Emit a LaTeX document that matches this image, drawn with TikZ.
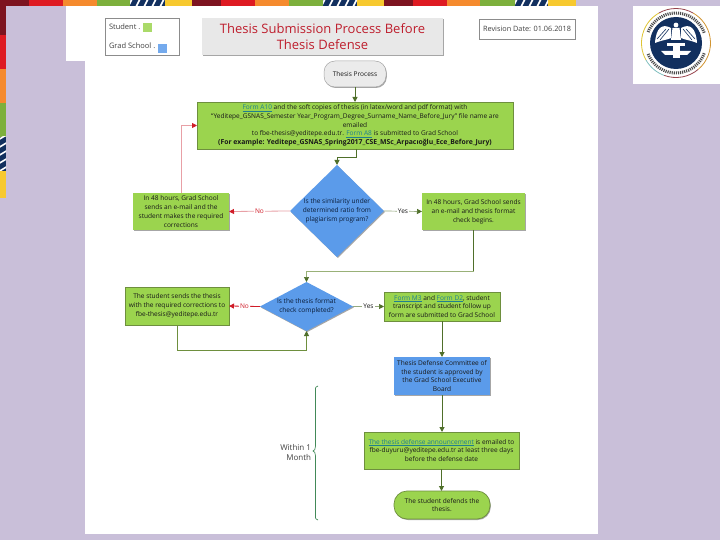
\documentclass[tikz,border=0pt]{standalone}
\usepackage{fontspec}
\setmainfont{Open Sans}
\usetikzlibrary{shapes.geometric,shadows,arrows.meta,calc}
\definecolor{lav}{HTML}{C9BFD9}
\definecolor{dkred}{HTML}{7D1420}
\definecolor{brred}{HTML}{DE1A22}
\definecolor{orng}{HTML}{F58A2E}
\definecolor{grn}{HTML}{7DB03C}
\definecolor{yel}{HTML}{F7C92F}
\definecolor{navy}{HTML}{12305F}
\definecolor{boxg}{HTML}{9BD44E}
\definecolor{boxb}{HTML}{5B9BEA}
\definecolor{edgeg}{HTML}{6E8F3E}
\definecolor{arrg}{HTML}{4F6F2A}
\definecolor{arrr}{HTML}{D01C28}
\definecolor{pink}{HTML}{E8A0A6}
\definecolor{linkc}{HTML}{1F7F8F}
\definecolor{ttl}{HTML}{BE1E2D}
\newcommand{\lnk}[1]{\textcolor{linkc}{\underline{#1}}}
\tikzset{
  x=1pt,y=-1pt,
  sh/.style={drop shadow={shadow xshift=0.8pt,shadow yshift=-1pt,opacity=.35,fill=black}},
  base/.style={inner sep=0pt,outer sep=0pt,align=center,font=\fontsize{6.55}{8.8}\selectfont,text=black!90},
  gbox/.style={base,rectangle,sh,fill=boxg,draw=edgeg,line width=.7pt},
  bbox/.style={base,rectangle,sh,fill=boxb},
  dia/.style={base,diamond,fill=boxb,sh,text=navy!60!black},
  gline/.style={draw=arrg,line width=1pt},
  garr/.style={gline,-{Triangle[length=5pt,width=5pt]}},
  rarr/.style={draw=pink,line width=.8pt,-{Triangle[length=5pt,width=5pt,fill=arrr,color=arrr]}},
  yarr/.style={draw=arrg!60,line width=.7pt,-{Triangle[length=5pt,width=5pt,fill=arrg,color=arrg]}},
  lab/.style={base,fill=white,inner xsep=1pt},
}
\newcommand{\stripeB}[4]{%
  \fill[navy] (#1,#2) rectangle (#3,#4);
  \begin{scope}
    \clip (#1,#2) rectangle (#3,#4);
    \foreach \s in {0,8,...,40}{
      \draw[white,line width=1.6pt] (#1-2,{#2+\s+3}) -- (#3+2,{#2+\s-3});
    }
  \end{scope}
}
\begin{document}
\begin{tikzpicture}
\useasboundingbox (0,0) rectangle (720,540);
\fill[lav] (0,0) rectangle (720,540);
% page
\fill[white] (66,6) rectangle (598,61);
\fill[white] (85,61) rectangle (598,534);
\fill[white] (633,6) rectangle (720,84);
% top band
\foreach \a/\b/\c in {0/29/dkred,29/63/brred,63/97/orng,97/130/grn,165/192/yel,192/221/dkred,221/255/brred,255/289/orng,289/323/grn,357/384/yel,384/413/dkred,413/447/brred,447/480/orng,480/515/grn,548/576/yel}
  \fill[\c] (\a,0) rectangle (\b,6);
\foreach \a/\b in {130/165,323/357,515/548}{
  \fill[navy] (\a,0) rectangle (\b,6);
  \begin{scope}
    \clip (\a,0) rectangle (\b,6);
    \foreach \s in {0,8,...,40}
      \draw[white,line width=1.7pt] ({\a+\s-2},7) -- ({\a+\s+2},-1);
  \end{scope}
}
% left band
\foreach \a/\b/\c in {0/35/dkred,35/69/brred,69/103/orng,103/137/grn,171/198/yel}
  \fill[\c] (0,\a) rectangle (6,\b);
\stripeB{0}{137}{6}{171}
% logo
\begin{scope}[shift={(676,43)}]
  \draw[dkred!80,line width=.8pt] (-60:34.5) arc (-60:-120:34.5);
  \draw[yel!80!grn,line width=.8pt] (-120:34.5) arc (-120:-210:34.5);
  \draw[teal!50,line width=.8pt] (-210:34.5) arc (-210:-250:34.5);
  \draw[dkred!80,line width=.8pt] (-250:34.5) arc (-250:-310:34.5);
  \draw[orng!70!grn,line width=.8pt] (-310:34.5) arc (-310:-420:34.5);
  \fill[navy] (0,0) circle (26);
  \draw[black!70,line width=3pt,dash pattern=on 1.1pt off 1pt] (-20:30) arc (-20:-160:30);
  \draw[black!70,line width=3pt,dash pattern=on 1.1pt off 1pt] (20:30) arc (20:160:30);
  \fill[white] (0,-18) circle (2.4);
  \fill[white] (-3.5,-15) -- (3.5,-15) -- (5,-3) -- (-5,-3) -- cycle;
  \fill[white] (-5,-15) .. controls (-14,-20) and (-20,-15) .. (-21,0) .. controls (-14,-3) and (-9,-3) .. (-5,-5) -- cycle;
  \fill[white] (5,-15) .. controls (14,-20) and (20,-15) .. (21,0) .. controls (14,-3) and (9,-3) .. (5,-5) -- cycle;
  \draw[navy,line width=.6pt] (-7,-14) -- (-16,-3) (-10,-14) -- (-19,-4) (7,-14) -- (16,-3) (10,-14) -- (19,-4);
  \fill[white] (-9,0) rectangle (9,3);
  \fill[white] (-3.5,3) rectangle (3.5,15);
  \fill[white] (-15,8) -- (15,8) -- (11,12) -- (-11,12) -- cycle;
\end{scope}
% legend
\node[rectangle,draw=black!45,line width=.5pt,fill=white,minimum width=74pt,minimum height=37pt,inner sep=0pt] (legend) at (142,36.5) {};
\node[base,anchor=west,font=\fontsize{7.5}{9}\selectfont,text=black!75] (lstud) at (109,27) {Student .};
\node[base,anchor=west,font=\fontsize{7.5}{9}\selectfont,text=black!75] (lgrad) at (109,46) {Grad School .};
\node[rectangle,fill=boxg!85!white,minimum size=9pt,inner sep=0pt] (lsq1) at (147,28) {};
\node[rectangle,fill=boxb!85!white,minimum size=9pt,inner sep=0pt] (lsq2) at (162.5,48.5) {};
% title
\node[base,rectangle,fill=black!9,sh,minimum width=241pt,minimum height=37pt,font=\fontsize{13}{16.5}\selectfont,text=ttl] (title) at (322.5,36.5) {Thesis Submission Process Before\\Thesis Defense};
% revision
\node[base,rectangle,draw=black!45,line width=.5pt,fill=white,minimum width=96pt,minimum height=20pt,font=\fontsize{7.3}{9}\selectfont,text=black!75] (rev) at (527,29) {Revision Date: 01.06.2018};
% flow nodes
\node[base,rectangle,rounded corners=11pt,fill=black!8,draw=black!35,line width=.5pt,sh,minimum width=62pt,minimum height=26pt] (start) at (355,74) {Thesis Process};
\node[gbox,minimum width=316pt,minimum height=47pt] (main) at (355,125.5) {\lnk{Form A10} and the soft copies of thesis (in latex/word and pdf format) with\\“Yeditepe\_GSNAS\_Semester Year\_Program\_Degree\_Surname\_Name\_Before\_Jury” file name are\\emailed\\to fbe-thesis@yeditepe.edu.tr. \lnk{Form A8} is submitted to Grad School\\{\fontsize{6.85}{8.8}\selectfont\textbf{(For example: Yeditepe\_GSNAS\_Spring2017\_CSE\_MSc\_Arpacıoğlu\_Ece\_Before\_Jury)}}};
\node[dia,aspect=1.02,minimum width=94pt,minimum height=92pt] (d1) at (337,211) {Is the similarity under\\determined ratio from\\plagiarism program?};
\node[gbox,draw=none,minimum width=96pt,minimum height=37pt] (l1) at (181,211.5) {In 48 hours, Grad School\\sends an e-mail and the\\student makes the required\\corrections};
\node[gbox,draw=none,minimum width=103pt,minimum height=37pt] (r1) at (473.5,211.5) {In 48 hours, Grad School sends\\an e-mail and thesis format\\check begins.};
\node[dia,aspect=1.9,minimum width=93pt,minimum height=49pt] (d2) at (306.5,306.5) {Is the thesis format\\check completed?};
\node[gbox,minimum width=104pt,minimum height=38pt] (l2) at (177,306) {The student sends the thesis\\with the required corrections to\\fbe-thesis@yeditepe.edu.tr};
\node[gbox,minimum width=116pt,minimum height=29pt] (r2) at (442,306.5) {\lnk{Form M3} and \lnk{Form D2}, student\\transcript and student follow up\\form are submitted to Grad School};
\node[bbox,minimum width=96pt,minimum height=38pt] (com) at (442,376) {Thesis Defense Committee of\\the student is approved by\\the Grad School Executive\\Board};
\node[gbox,minimum width=155pt,minimum height=37pt] (ann) at (441.5,450.5) {\lnk{The thesis defense announcement} is emailed to\\fbe-duyuru@yeditepe.edu.tr at least three days\\before the defense date};
\node[gbox,rounded corners=13pt,minimum width=96pt,minimum height=28pt] (end) at (442,505) {The student defends the\\thesis.};
\node[base,align=right,anchor=east,font=\fontsize{8}{10.5}\selectfont,text=black!75] (mon) at (311,452.5) {Within 1\\Month};
% connectors
\coordinate (m1) at ($(main.south)+(1,9)$);
\draw[garr] (start.south) -- (main.north);
\draw[garr] (main.south -| m1) -- (m1) -| (d1.north);
\draw[rarr] (d1.west) -- node[lab,text=arrr] (nlab1) {No} (l1.east);
\draw[yarr] (d1.east) -- node[lab] (ylab1) {Yes} (r1.west);
\draw[rarr] (l1.north) |- (main.west);
\coordinate (m2) at ($(r1.south)+(0,41)$);
\draw[draw=arrg,line width=.8pt] (r1.south) -- (m2);
\draw[draw=edgeg!70,line width=.7pt,-{Triangle[length=5pt,width=5pt,fill=arrg,color=arrg]}] (m2) -| (d2.north);
\draw[rarr,draw=arrr] (d2.west) -- node[lab,text=arrr] (nlab2) {No} (l2.east);
\draw[yarr] (d2.east) -- node[lab] (ylab2) {Yes} (r2.west);
\coordinate (m3) at ($(l2.south)+(0,25)$);
\draw[draw=edgeg,line width=.8pt,-{Triangle[length=5pt,width=5pt,fill=arrg,color=arrg]}] (l2.south) -- (m3) -| (d2.south);
\draw[garr] (r2.south) -- (com.north);
\draw[garr] (com.south) -- (ann.north -| com.south);
\draw[garr] (ann.south) -- (end.north -| ann.south);
% brace
\coordinate (bt) at (318,386);
\coordinate (bm) at (313,451);
\coordinate (bb) at (318,520);
\draw[edgeg!60!teal,line width=.7pt] (bt) .. controls (315,386) and (315.5,388) .. (315.5,391) -- (315.5,446) .. controls (315.5,449) and (314.5,451) .. (bm) .. controls (314.5,451) and (315.5,453) .. (315.5,456) -- (315.5,515) .. controls (315.5,518) and (315,520) .. (bb);
\end{tikzpicture}
\end{document}
